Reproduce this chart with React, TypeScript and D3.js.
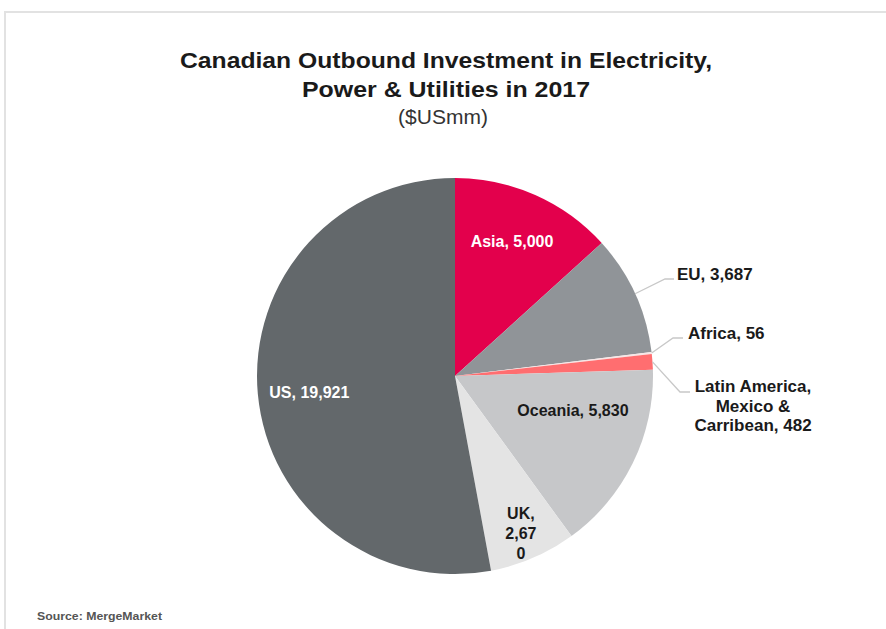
import React from "react";
import * as d3 from "d3";

const categories = ["Asia", "EU", "Africa", "Latin America, Mexico & Carribean", "Oceania", "UK", "US"];
const values = [5000, 3687, 56, 482, 5830, 2670, 19921];
const colors = ["#e3004c", "#909498", "#f7e6e6", "#ff6e70", "#c6c7c9", "#e4e4e4", "#63686b"];
// label lines (as displayed)
const labelLines = [
  ["Asia,  5,000"],
  ["EU, 3,687"],
  ["Africa,  56"],
  ["Latin America,", "Mexico &", "Carribean, 482"],
  ["Oceania, 5,830"],
  ["UK,", "2,67", "0"],
  ["US, 19,921"],
];
const titleLines = ["Canadian Outbound Investment in Electricity,", "Power & Utilities  in 2017"];
const subtitle = "($USmm)";
const source = "Source:  MergeMarket";

// layout
const W = 886, H = 629;
const cx = 455, cy = 376, R = 198;
const inside = [
  { i: 0, rf: 0.74, da: -1, fill: "#ffffff" },
  { i: 4, rf: 0.62, da: -10, fill: "#1a1a1a" },
  { i: 5, rf: 0.86, da: 0.5, fill: "#1a1a1a" },
  { i: 6, rf: 0.74, da: -1, fill: "#ffffff" },
];
const outside = [
  { i: 1, elbow: [665, 279], end: 674, tx: 677, ty: 280, anchor: "start" },
  { i: 2, elbow: [673, 338], end: 683, tx: 688, ty: 339, anchor: "start" },
  { i: 3, elbow: [680, 392], end: 690, tx: 753, ty: 392, anchor: "middle" },
];

export default function App() {
  const pie = d3.pie<number>().sort(null).value((d) => d)(values);
  const arc = d3.arc<d3.PieArcDatum<number>>().innerRadius(0).outerRadius(R);
  const font = "'Liberation Sans', Arial, sans-serif";
  const mid = (d: d3.PieArcDatum<number>) => (d.startAngle + d.endAngle) / 2;
  const polar = (a: number, r: number): [number, number] => [Math.sin(a) * r, -Math.cos(a) * r];

  return (
    <svg width={W} height={H} style={{ position: "absolute", left: 0, top: 0, background: "#fff" }} fontFamily={font}>
      <rect x={5} y={12} width={W + 10} height={H + 10} fill="none" stroke="#e2e2e2" strokeWidth={2} />
      <g textAnchor="middle" fontWeight="bold" fill="#1a1a1a" fontSize={22.5}>
        <text x={446} y={68} textLength={532} lengthAdjust="spacingAndGlyphs">{titleLines[0]}</text>
        <text x={446} y={97} textLength={288} lengthAdjust="spacingAndGlyphs">{titleLines[1]}</text>
      </g>
      <text x={443} y={124} textAnchor="middle" fontSize={21} fill="#333">{subtitle}</text>
      <g transform={`translate(${cx},${cy})`}>
        {pie.map((d, i) => (
          <path key={i} d={arc(d) || ""} fill={colors[i]} />
        ))}
      </g>
      {inside.map(({ i, rf, da, fill }) => {
        const a = mid(pie[i]) + (da * Math.PI) / 180;
        const [x, y] = polar(a, R * rf);
        const lines = labelLines[i];
        const lh = 20;
        const y0 = cy + y - ((lines.length - 1) * lh) / 2 + 6;
        return (
          <text key={i} textAnchor="middle" fontWeight="bold" fontSize={16} fill={fill}>
            {lines.map((l, k) => (
              <tspan key={k} x={cx + x} y={y0 + k * lh}>{l}</tspan>
            ))}
          </text>
        );
      })}
      {outside.map(({ i, elbow, end, tx, ty, anchor }) => {
        const [x, y] = polar(mid(pie[i]), R);
        const lines = labelLines[i];
        return (
          <g key={i}>
            <polyline
              points={`${cx + x},${cy + y} ${elbow[0]},${elbow[1]} ${end},${elbow[1]}`}
              fill="none"
              stroke="#c8c8c8"
              strokeWidth={1.3}
            />
            <text textAnchor={anchor} fontWeight="bold" fontSize={17} fill="#1a1a1a">
              {lines.map((l, k) => (
                <tspan key={k} x={tx} y={ty + k * 19.5}>{l}</tspan>
              ))}
            </text>
          </g>
        );
      })}
      <text x={37} y={620} fontSize={11} fontWeight="bold" fill="#555" textLength={125} lengthAdjust="spacingAndGlyphs">{source}</text>
    </svg>
  );
}
